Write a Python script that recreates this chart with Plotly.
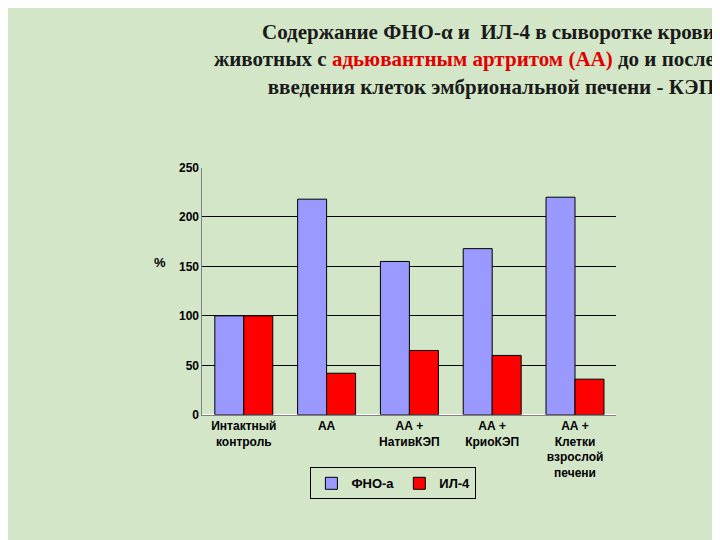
import plotly.graph_objects as go

categories = ["Интактный<br>контроль", "АА", "АА +<br>НативКЭП", "АА +<br>КриоКЭП", "АА +<br>Клетки<br>взрослой<br>печени"]
fno = [100, 218, 155, 168, 220]
il4 = [100, 42, 65, 60, 36]
yticks = [0, 50, 100, 150, 200, 250]

fig = go.Figure()
fig.add_bar(x=categories, y=fno, name="<b>ФНО-а</b>", marker=dict(color="#9999ff", line=dict(color="black", width=1)))
fig.add_bar(x=categories, y=il4, name="<b>ИЛ-4</b>", marker=dict(color="#ff0000", line=dict(color="black", width=1)))

title = ("<b>Содержание ФНО-α и  ИЛ-4 в сыворотке крови<br>"
         "животных с <span style='color:#e00000'>адьювантным артритом (АА)</span> до и после<br>"
         "введения клеток эмбриональной печени - КЭП</b>")
fig.add_annotation(text=title, xref="paper", yref="paper", x=0.985, y=0.995, xanchor="right", yanchor="top",
                   showarrow=False, align="right",
                   font=dict(family="Liberation Serif", size=21, color="#1a1a1a"))
fig.add_annotation(text="<b>%</b>", xref="paper", yref="paper", x=0.2, y=0.53, showarrow=False,
                   font=dict(family="Liberation Sans", size=13, color="black"))

fig.update_layout(
    width=720, height=540,
    margin=dict(l=0, r=0, t=0, b=0),
    paper_bgcolor="#d3e6c8", plot_bgcolor="#d3e6c8",
    barmode="group", bargap=0.3, bargroupgap=0.0,
    font=dict(family="Liberation Sans", size=12, color="black"),
    xaxis=dict(domain=[0.27, 0.845], showline=True, linecolor="gray", tickangle=0,
               ticktext=["<b>" + c + "</b>" for c in categories], tickvals=categories),
    yaxis=dict(domain=[0.24, 0.71], range=[0, 250], tickvals=yticks,
               ticktext=["<b>%d</b>" % v for v in yticks], showgrid=True, gridcolor="black",
               gridwidth=1, showline=True, linecolor="gray"),
    legend=dict(orientation="h", x=0.42, y=0.14, xanchor="left", yanchor="top",
                bordercolor="black", borderwidth=1, bgcolor="rgba(0,0,0,0)",
                font=dict(size=13, family="Liberation Sans")),
)
fig.write_html("out.html")
